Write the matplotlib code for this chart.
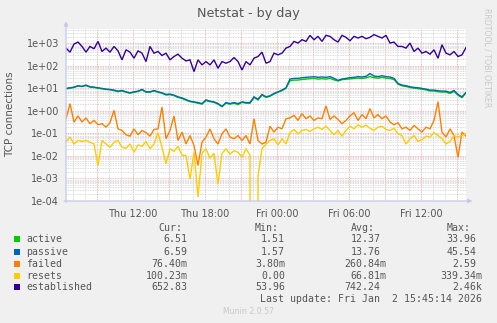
import numpy as np
import matplotlib
matplotlib.use("Agg")
import matplotlib.pyplot as plt
from matplotlib.ticker import FixedLocator, FuncFormatter, NullFormatter, LogLocator
from matplotlib.patches import Rectangle

W, H = 497, 323

# samples every 20 minutes, hours counted from Thu 00:00
T_START = 6 + 25 / 60
T_END = T_START + 100 / 3

active = [9.6, 10.2, 11.0, 12.8, 12.0, 13.5, 11.4, 11.0, 10.3, 9.6, 9.0, 8.7, 8.0, 7.2, 7.8, 6.8, 6.1,
          6.8, 7.3, 8.7, 6.8, 6.8, 7.8, 6.8, 6.1, 5.1, 5.3, 4.8, 4.0, 3.6, 3.0, 2.6, 2.4, 2.2, 2.0,
          2.9, 2.6, 2.4, 2.0, 1.55, 2.2, 2.0, 2.2, 1.9, 2.4, 2.2, 2.2, 4.0, 3.1, 5.1, 4.0,
          4.5, 5.7, 6.8, 8.0, 10.2, 22.0, 23.5, 23.5, 25.0, 26.0, 27.0, 28.0, 26.0, 27.0, 26.0, 28.0,
          24.0, 21.5, 24.5, 25.5, 26.5, 27.5, 28.5, 28.0, 29.5, 33.5, 30.0, 28.5, 31.0, 28.5, 27.5,
          25.0, 15.5, 13.0, 12.2, 11.0, 10.3, 9.8, 9.2, 8.6, 7.7, 7.7, 7.2, 6.9, 6.9, 6.0, 7.4, 5.0,
          3.9, 6.5]
passive = [10.0, 10.7, 11.4, 13.2, 12.4, 14.1, 11.9, 11.4, 10.7, 10.0, 9.33, 9.02, 8.42, 7.60, 8.1,
           7.09, 6.4, 7.09, 7.60, 9.02, 7.09, 7.09, 8.1, 7.09, 6.4, 5.39, 5.6, 5.03, 4.24, 3.8, 3.2,
           2.71, 2.53, 2.36, 2.13, 3.1, 2.71, 2.53, 2.13, 1.6, 2.36, 2.13, 2.36, 2.13, 2.53, 2.36,
           2.36, 4.24, 3.3, 5.39, 4.24,
           4.70, 5.97, 7.09, 8.42, 10.7, 26.2, 28.0, 28.0, 30.0, 31.1, 32.2, 33.3, 31.1, 32.2, 31.1,
           33.3, 28.0, 22.8, 26.2, 28.0, 30.0, 31.1, 33.3, 32.2, 34.4, 45.5, 35.5, 33.3, 36.9, 33.3,
           32.2, 28.0, 16.7, 14.1, 13.2, 11.9, 11.1, 10.7, 10.0, 9.33, 8.42, 8.42, 7.86, 7.60, 7.60,
           6.62, 8.1, 5.39, 4.24, 6.59]
failed = [0.45, 2.13, 0.32, 0.60, 0.32, 0.49, 0.27, 0.38, 0.244, 0.27, 0.19, 0.30, 1.07, 0.16, 0.136,
          0.087, 0.076, 0.16, 0.087, 0.136, 0.109, 0.076, 0.15, 0.16, 1.51, 0.058, 0.136, 0.60, 0.049,
          0.115, 0.034, 0.081, 0.029, 0.0038, 0.041, 0.069, 0.16, 0.058, 0.034, 0.097, 0.16, 0.069,
          0.058, 0.081, 0.049, 0.081, 0.034, 0.45, 0.049, 0.034, 0.041,
          0.21, 0.115, 0.19, 0.16, 0.45, 0.49, 0.64, 0.38, 0.76, 0.45, 0.60, 0.38, 0.49, 0.45, 1.67,
          0.42, 0.60, 0.42, 0.27, 0.38, 0.60, 0.84, 0.38, 0.69, 0.45, 1.27, 0.49, 0.69, 0.45, 0.60,
          0.32, 0.244, 0.30, 0.16, 0.19, 0.136, 0.23, 0.16, 0.115, 0.19, 0.16, 0.38, 2.59, 0.115,
          0.069, 0.16, 0.081, 0.0087, 0.115, 0.076]
resets = [0.041, 0.069, 0.034, 0.049, 0.044, 0.049, 0.041, 0.034, 0.0037, 0.049, 0.034, 0.024, 0.041,
          0.049, 0.024, 0.022, 0.034, 0.0146, 0.031, 0.027, 0.044, 0.021, 0.034, 0.109, 0.024, 0.0045,
          0.021, 0.016, 0.027, 0.011, 0.0103, 0.00093, 0.0146, 0.00015, 0.013, 0.021, 0.0079, 0.013,
          0.00056, 0.013, 0.021, 0.012, 0.017, 0.0146, 0.0087, 0.021, 0.011, 0.0, 0.0013, 0.021, 0.034,
          0.049, 0.058, 0.031, 0.058, 0.034, 0.109, 0.15, 0.097, 0.136, 0.15, 0.123, 0.16, 0.19, 0.15,
          0.21, 0.136, 0.087, 0.136, 0.076, 0.136, 0.21, 0.16, 0.24, 0.19, 0.23, 0.17, 0.136, 0.19,
          0.21, 0.15, 0.136, 0.17, 0.097, 0.081, 0.034, 0.058, 0.081, 0.044, 0.054, 0.076, 0.069,
          0.109, 0.081, 0.058, 0.034, 0.044, 0.081, 0.069, 0.081, 0.100]
established = [618, 409, 933, 1147, 734, 409, 734, 577, 1229, 438, 618, 409, 734, 469, 186, 520, 409,
               220, 469, 369, 156, 734, 369, 438, 290, 369, 186, 262, 333, 220, 167, 186, 56, 186,
               111, 156, 111, 186, 79, 156, 132, 156, 236, 156, 66, 156, 111, 220, 262, 409, 132,
               156, 369, 311, 369, 618, 734, 1229, 1035, 1459, 1229, 2280, 1459, 2056, 1229, 2280,
               2056, 1459, 1147, 2280, 1857, 1316, 2056, 1733, 2056, 1618, 1857, 2460, 2056, 1733,
               2280, 1035, 1147, 734, 734, 618, 1035, 438, 618, 369, 438, 333, 520, 220, 871, 369,
               311, 438, 262, 311, 653]

names = ["active", "passive", "failed", "resets", "established"]
colors = ["#00CC00", "#0066B3", "#FF8000", "#FFCC00", "#330099"]
cur = ["6.51", "6.59", "76.40m", "100.23m", "652.83"]
mins = ["1.51", "1.57", "3.80m", "0.00", "53.96"]
avgs = ["12.37", "13.76", "260.84m", "66.81m", "742.24"]
maxs = ["33.96", "45.54", "2.59", "339.34m", "2.46k"]

day_names = {0: "Thu", 1: "Fri"}

fig = plt.figure(figsize=(W / 100, H / 100), dpi=100, facecolor="#F0F0F0")
ax = fig.add_axes([66 / W, 1 - 201 / H, 400 / W, 172 / H])
ax.set_facecolor("white")

t = T_START + np.arange(len(established)) / 3
for series, c in zip([active, passive, failed, resets, established], colors):
    ax.plot(t, series, color=c, lw=1.0, solid_joinstyle="miter")

ax.set_yscale("log", nonpositive="clip")
ax.set_ylim(1e-4, 10 ** 3.64)
ax.set_xlim(T_START, T_END)

# grids (rrdtool style: grey minor, red major, dotted)
ax.yaxis.set_major_locator(FixedLocator([10.0 ** e for e in range(-4, 4)]))
ax.yaxis.set_minor_locator(LogLocator(base=10, subs=np.arange(2, 10), numticks=20))
ax.yaxis.set_major_formatter(FuncFormatter(lambda v, p: "1e%+03d" % round(np.log10(v))))
ax.yaxis.set_minor_formatter(NullFormatter())
ax.xaxis.set_major_locator(FixedLocator(np.arange(9, 40, 3)))
ax.xaxis.set_minor_locator(FixedLocator(np.arange(7, 40, 1)))


def xlab(v, p):
    h = int(round(v))
    if h % 6:
        return ""
    return "%s %02d:00" % (day_names[h // 24], h % 24)


ax.xaxis.set_major_formatter(FuncFormatter(xlab))
ax.grid(True, which="minor", color="#d0d0d0", lw=0.6, ls=(0, (1, 1)))
ax.grid(True, which="major", color="#eaa0a0", lw=0.6, ls=(0, (1, 1)))
ax.set_axisbelow(True)
ax.tick_params(which="both", length=0, labelsize=7, labelcolor="#555555")
ax.tick_params(axis="y", pad=5)
ax.tick_params(axis="x", pad=6)
for s in ax.spines.values():
    s.set_visible(False)

# axis arrows
arr = dict(arrowstyle="-|>", color="#c4c8ec", lw=0.9, mutation_scale=6, shrinkA=0, shrinkB=0)
ax.annotate("", xy=(0, 1.045), xytext=(0, -0.01), xycoords="axes fraction",
            arrowprops=arr, annotation_clip=False)
ax.annotate("", xy=(1.016, 0), xytext=(-0.005, 0), xycoords="axes fraction",
            arrowprops=arr, annotation_clip=False)


def px(x, y):
    return x / W, 1 - y / H


fig.text(*px(248, 14), "Netstat - by day", ha="center", va="center", fontsize=9.2, color="#555555")
fig.text(*px(10, 114), "TCP connections", ha="center", va="center", rotation=90,
         fontsize=7.5, color="#555555")
fig.text(*px(487, 58), "RRDTOOL / TOBI OETIKER", ha="center", va="center", rotation=270,
         fontsize=5.6, color="#c8c8c8")

mono = dict(family="DejaVu Sans Mono", fontsize=7.1, color="#555555", va="center")
for label, xr in [("Cur:", 182), ("Min:", 279), ("Avg:", 374.7), ("Max:", 470.7)]:
    fig.text(*px(xr, 227.7), label, ha="right", **mono)

rows = [239.3, 251.7, 263.7, 275.7, 287.3]
for i, y in enumerate(rows):
    fig.patches.append(Rectangle(px(14, y + 3), 6 / W, 6 / H, transform=fig.transFigure,
                                 facecolor=colors[i], edgecolor="none"))
    fig.text(*px(26.5, y), names[i], ha="left", **mono)
    fig.text(*px(187.7, y), cur[i], ha="right", **mono)
    fig.text(*px(285, y), mins[i], ha="right", **mono)
    fig.text(*px(386.7 if avgs[i][-1].isalpha() else 380.7, y), avgs[i], ha="right", **mono)
    fig.text(*px(482.3 if maxs[i][-1].isalpha() else 476.7, y), maxs[i], ha="right", **mono)

fig.text(*px(482.3, 299.3), "Last update: Fri Jan  2 15:45:14 2026", ha="right", **mono)
fig.text(*px(248, 312), "Munin 2.0.57", ha="center", va="center", fontsize=5.6, color="#c8c8c8")

fig.savefig("out.png", dpi=100, facecolor=fig.get_facecolor())
